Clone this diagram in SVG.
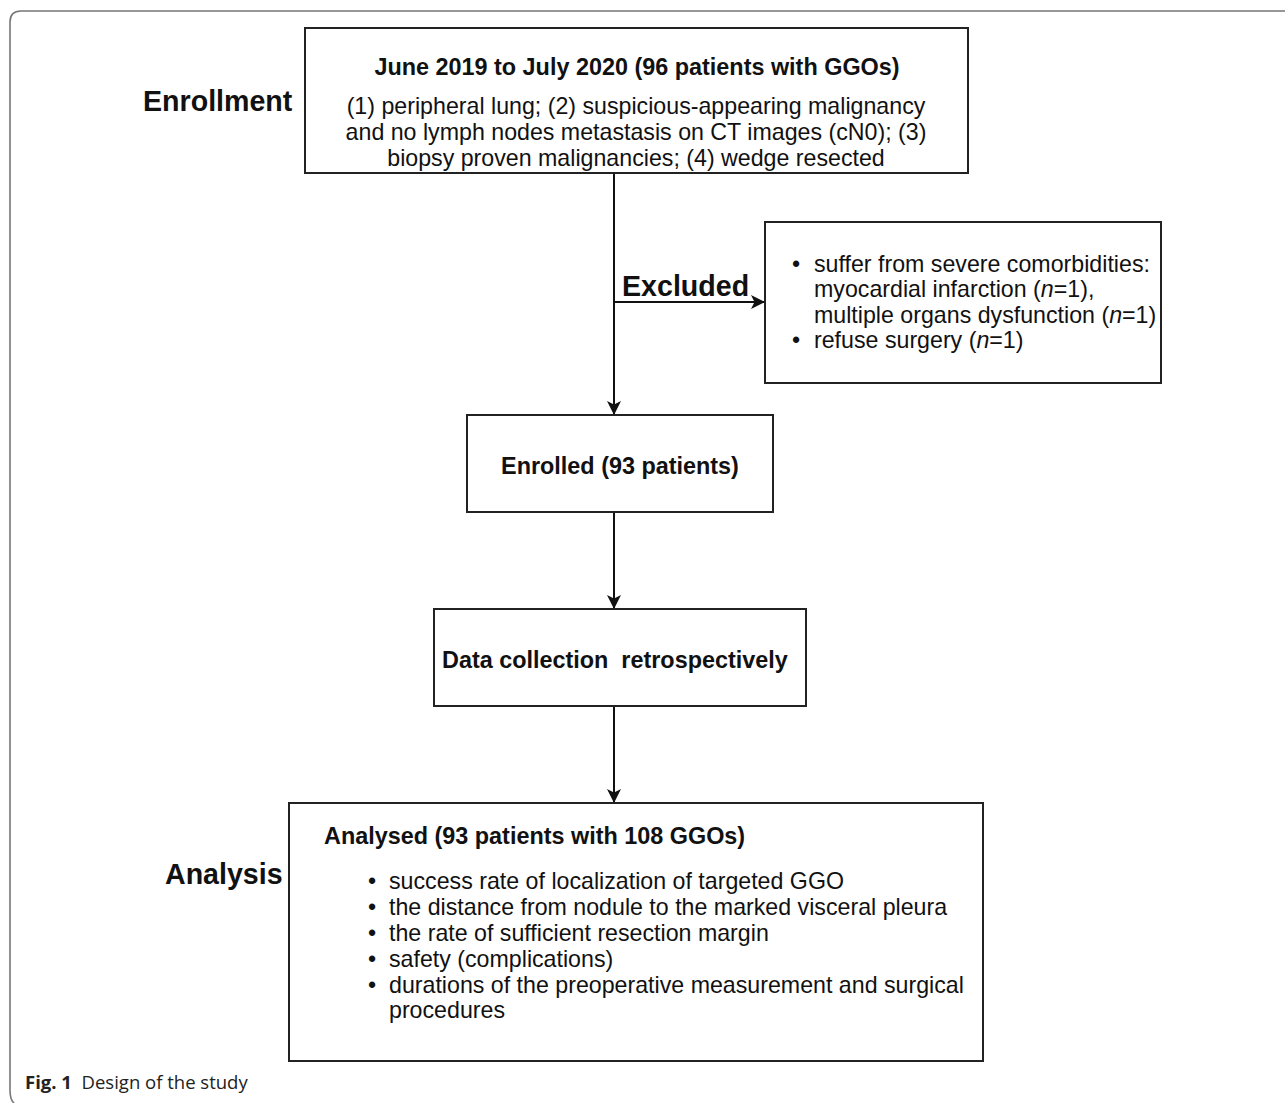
<svg xmlns="http://www.w3.org/2000/svg" width="1285" height="1103" viewBox="0 0 1285 1103">
<style>
.box{fill:#fff;stroke:#222;stroke-width:2}
.t{font-family:"Liberation Sans",Arial,sans-serif;fill:#111}
.big{font-size:28.6px;font-weight:bold}
.n{font-size:23.2px}
.h{font-size:23.4px;font-weight:bold}
.line{stroke:#111;stroke-width:2;fill:none}
</style>
<defs>
<marker id="arr" viewBox="0 0 14 14" refX="13" refY="7" markerWidth="14" markerHeight="14" markerUnits="userSpaceOnUse" orient="auto">
<path d="M0,0 L14,7 L0,14 L3.5,7 Z" fill="#111"/>
</marker>
</defs>
<rect width="1285" height="1103" fill="#fff"/>
<path d="M1300,11 H21 Q10,11 10,22 V1090 Q10,1100 14,1103" fill="none" stroke="#777" stroke-width="1.6"/>
<g id="connectors">
<line class="line" x1="614" y1="173" x2="614" y2="414" marker-end="url(#arr)"/>
<line class="line" x1="614" y1="302" x2="764" y2="302" marker-end="url(#arr)"/>
<line class="line" x1="614" y1="512" x2="614" y2="608" marker-end="url(#arr)"/>
<line class="line" x1="614" y1="706" x2="614" y2="802" marker-end="url(#arr)"/>
<text class="t big" x="622" y="296">Excluded</text>
</g>
<g id="label-enrollment"><text class="t big" x="143" y="111">Enrollment</text></g>
<g id="label-analysis"><text class="t big" x="165" y="884">Analysis</text></g>
<g id="node-screen">
<rect class="box" x="305" y="28" width="663" height="145"/>
<text class="t h" x="637" y="75" text-anchor="middle">June 2019 to July 2020 (96 patients with GGOs)</text>
<text class="t n" x="636" y="114" text-anchor="middle">(1) peripheral lung; (2) suspicious-appearing malignancy</text>
<text class="t n" x="636" y="140" text-anchor="middle">and no lymph nodes metastasis on CT images (cN0); (3)</text>
<text class="t n" x="636" y="166" text-anchor="middle">biopsy proven malignancies; (4) wedge resected</text>
</g>
<g id="node-excluded">
<rect class="box" x="765" y="222" width="396" height="161"/>
<text class="t n" x="792" y="272">•</text>
<text class="t n" x="814" y="272">suffer from severe comorbidities:</text>
<text class="t n" x="814" y="297">myocardial infarction (<tspan font-style="italic">n</tspan>=1),</text>
<text class="t n" x="814" y="323">multiple organs dysfunction (<tspan font-style="italic">n</tspan>=1)</text>
<text class="t n" x="792" y="348">•</text>
<text class="t n" x="814" y="348">refuse surgery (<tspan font-style="italic">n</tspan>=1)</text>
</g>
<g id="node-enrolled">
<rect class="box" x="467" y="415" width="306" height="97"/>
<text class="t h" x="620" y="474" text-anchor="middle">Enrolled (93 patients)</text>
</g>
<g id="node-data">
<rect class="box" x="434" y="609" width="372" height="97"/>
<text class="t h" x="442" y="668" xml:space="preserve" style="white-space:pre">Data collection  retrospectively</text>
</g>
<g id="node-analysed">
<rect class="box" x="289" y="803" width="694" height="258"/>
<text class="t h" x="324" y="844">Analysed (93 patients with 108 GGOs)</text>
<text class="t n" x="368" y="889">•</text>
<text class="t n" x="389" y="889">success rate of localization of targeted GGO</text>
<text class="t n" x="368" y="915">•</text>
<text class="t n" x="389" y="915">the distance from nodule to the marked visceral pleura</text>
<text class="t n" x="368" y="941">•</text>
<text class="t n" x="389" y="941">the rate of sufficient resection margin</text>
<text class="t n" x="368" y="967">•</text>
<text class="t n" x="389" y="967">safety (complications)</text>
<text class="t n" x="368" y="993">•</text>
<text class="t n" x="389" y="993">durations of the preoperative measurement and surgical</text>
<text class="t n" x="389" y="1018">procedures</text>
</g>
<g id="caption">
<text x="25" y="1089" font-family="'Open Sans','Noto Sans',sans-serif" font-size="18.5" fill="#222" xml:space="preserve" style="white-space:pre"><tspan font-weight="bold">Fig. 1</tspan>  Design of the study</text>
</g>
</svg>
